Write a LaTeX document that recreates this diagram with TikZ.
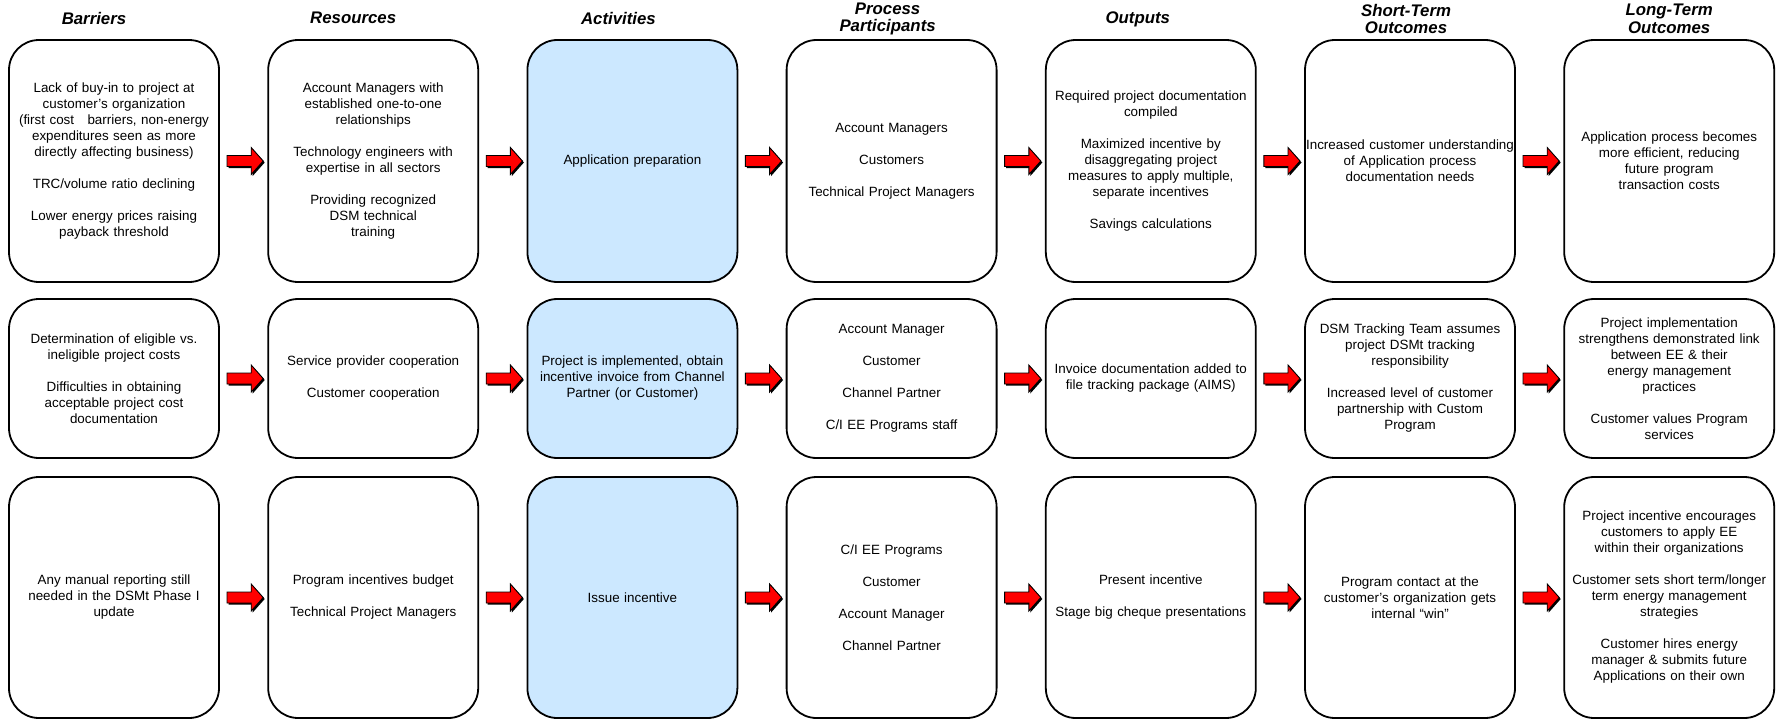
\documentclass[tikz,border=0pt]{standalone}
\usepackage{fontspec}
\setmainfont{Liberation Sans}
\usetikzlibrary{positioning,calc,shadows}
\definecolor{ink}{HTML}{000000}
\definecolor{actFill}{HTML}{CCE8FF}
\definecolor{arrowRed}{HTML}{FF0000}
\tikzset{
  box/.style={rounded corners=30pt,draw=ink,line width=1.8pt,
    fill=white,text=ink,align=center,text width=210pt,
    inner xsep=0pt,inner ysep=4pt,outer sep=0pt},
  tall/.style={minimum height=242pt},
  short/.style={minimum height=159pt},
  lower/.style={minimum height=241pt},
  activity/.style={fill=actFill},
  head/.style={align=center,text=ink,
    font=\fontsize{16.8}{17.5}\selectfont\bfseries\itshape},
  blockarrow/.style={draw=ink,line width=0.9pt,fill=arrowRed,
    drop shadow={shadow xshift=1.5pt,shadow yshift=-1.5pt,fill=ink,opacity=1},
    to path={($(\tikztostart)+(0,5.5pt)$) -- ($(\tikztotarget)+(-12pt,5.5pt)$)
      -- ($(\tikztotarget)+(-12pt,13.5pt)$) -- (\tikztotarget)
      -- ($(\tikztotarget)+(-12pt,-13.5pt)$) -- ($(\tikztotarget)+(-12pt,-5.5pt)$)
      -- ($(\tikztostart)+(0,-5.5pt)$) -- cycle}}
}

\begin{document}
\begin{tikzpicture}[font=\fontsize{13.4}{16}\selectfont,node distance=17pt and 49.2pt]
  \useasboundingbox (0,0) rectangle (1782pt,-720pt);

  % Row 1: application
  \node[box,tall,anchor=north west] (bar1) at (9pt,-40pt)
    {Lack of buy-in to project at\\customer's organization\\(first cost\ \ \ barriers, non-energy\\expenditures seen as more\\directly affecting business)\\[16pt]TRC/volume ratio declining\\[16pt]Lower energy prices raising\\payback threshold};
  \node[box,tall,right=of bar1] (res1)
    {Account Managers with\\established one-to-one\\relationships\\[16pt]Technology engineers with\\expertise in all sectors\\[16pt]Providing recognized\\DSM technical\\training};
  \node[box,tall,activity,right=of res1] (act1) {Application preparation};
  \node[box,tall,right=of act1] (par1)
    {Account Managers\\[16pt]Customers\\[16pt]Technical Project Managers};
  \node[box,tall,right=of par1] (out1)
    {Required project documentation\\compiled\\[16pt]Maximized incentive by\\disaggregating project\\measures to apply multiple,\\separate incentives\\[16pt]Savings calculations};
  \node[box,tall,right=of out1] (st1)
    {Increased customer understanding\\of Application process\\documentation needs};
  \node[box,tall,right=of st1] (lt1)
    {Application process becomes\\more efficient, reducing\\future program\\transaction costs};

  % Row 2: implementation
  \node[box,short,below=of bar1] (bar2)
    {Determination of eligible vs.\\ineligible project costs\\[16pt]Difficulties in obtaining\\acceptable project cost\\documentation};
  \node[box,short,right=of bar2] (res2)
    {Service provider cooperation\\[16pt]Customer cooperation};
  \node[box,short,activity,right=of res2] (act2)
    {Project is implemented, obtain\\incentive invoice from Channel\\Partner (or Customer)};
  \node[box,short,right=of act2] (par2)
    {Account Manager\\[16pt]Customer\\[16pt]Channel Partner\\[16pt]C/I EE Programs staff};
  \node[box,short,right=of par2] (out2)
    {Invoice documentation added to\\file tracking package (AIMS)};
  \node[box,short,right=of out2] (st2)
    {DSM Tracking Team assumes\\project DSMt tracking\\responsibility\\[16pt]Increased level of customer\\partnership with Custom\\Program};
  \node[box,short,right=of st2] (lt2)
    {Project implementation\\strengthens demonstrated link\\between EE \& their\\energy management\\practices\\[16pt]Customer values Program\\services};

  % Row 3: incentive
  \node[box,lower,below=19pt of bar2] (bar3)
    {Any manual reporting still\\needed in the DSMt Phase I\\update};
  \node[box,lower,right=of bar3] (res3)
    {Program incentives budget\\[16pt]Technical Project Managers};
  \node[box,lower,activity,right=of res3] (act3) {Issue incentive};
  \node[box,lower,right=of act3] (par3)
    {C/I EE Programs\\[16pt]Customer\\[16pt]Account Manager\\[16pt]Channel Partner};
  \node[box,lower,right=of par3] (out3)
    {Present incentive\\[16pt]Stage big cheque presentations};
  \node[box,lower,right=of out3] (st3)
    {Program contact at the\\customer's organization gets\\internal “win”};
  \node[box,lower,right=of st3] (lt3)
    {Project incentive encourages\\customers to apply EE\\within their organizations\\[16pt]Customer sets short term/longer\\term energy management\\strategies\\[16pt]Customer hires energy\\manager \& submits future\\Applications on their own};

  % Column headings
  \node[head] (hBar) at ($(bar1.north)+(-20pt,22pt)$) {Barriers};
  \node[head] (hRes) at ($(res1.north)+(-20pt,22pt)$) {Resources};
  \node[head] (hAct) at ($(act1.north)+(-14pt,22pt)$) {Activities};
  \node[head] (hPar) at ($(par1.north)+(-4pt,21pt)$) {Process\\Participants};
  \node[head] (hOut) at ($(out1.north)+(-13pt,21pt)$) {Outputs};
  \node[head] (hSt) at ($(st1.north)+(-4pt,21pt)$) {Short-Term\\Outcomes};
  \node[head] (hLt) at ($(lt1.north)+(0pt,21pt)$) {Long-Term\\Outcomes};

  \foreach \r in {1,2,3}
    \foreach \a/\b in {bar/res,res/act,act/par,par/out,out/st,st/lt}
      \draw[blockarrow] ($(\a\r.east)+(8pt,0)$) to ($(\b\r.west)+(-5pt,0)$);
\end{tikzpicture}
\end{document}
